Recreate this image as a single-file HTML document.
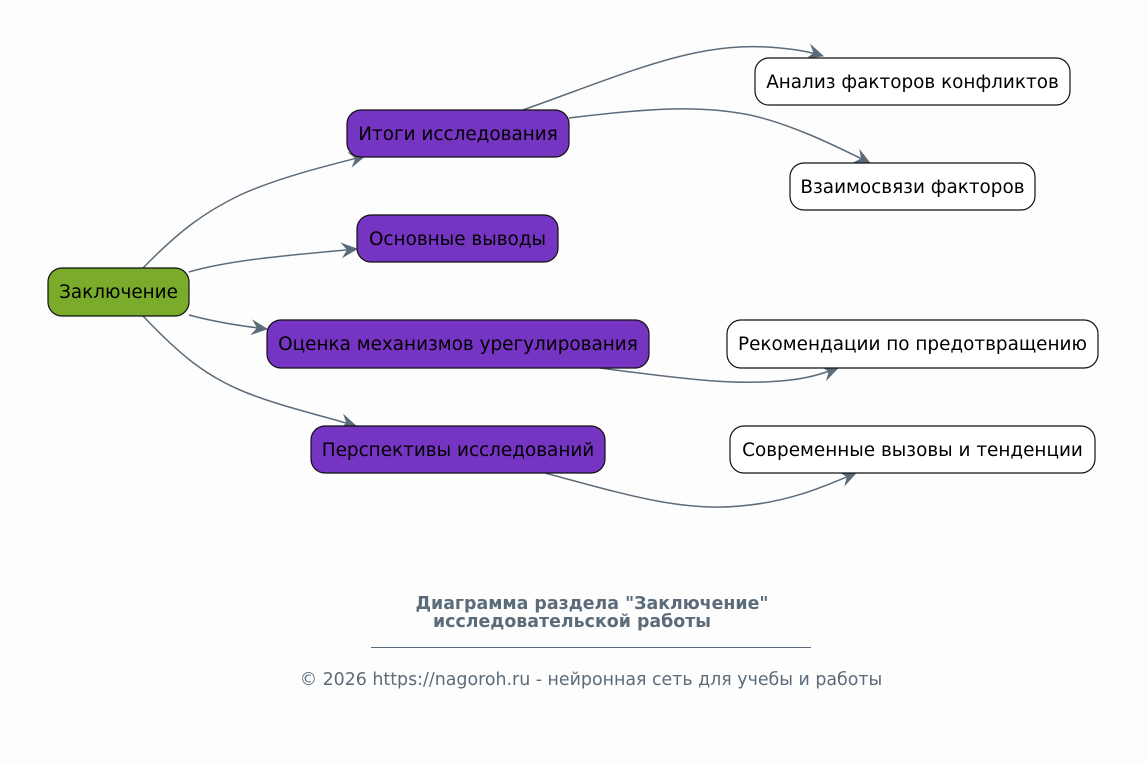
<!DOCTYPE html>
<html><head><meta charset="utf-8"><style>
html,body{margin:0;padding:0;background:#fdfdfd;}
svg{display:block;font-family:"DejaVu Sans","Liberation Sans",sans-serif;}
</style></head><body>
<svg width="1147" height="764" viewBox="0 0 1147 764" xmlns="http://www.w3.org/2000/svg">
<defs>
<marker id="a" markerUnits="userSpaceOnUse" markerWidth="18" markerHeight="16" refX="16" refY="8" orient="auto">
<path d="M0,0 L17,8 L0,16 L6,8 z" fill="#5c6b7a"/>
</marker>
</defs>
<rect width="1147" height="764" fill="#fdfdfd"/>
<g fill="none" stroke="#5c6b7a" stroke-width="1.5" marker-end="url(#a)">
<path d="M143,268 C180,230 205,212 240,195 C280,177 330,165 365,156"/>
<path d="M189,272 C230,260 290,255 357,249"/>
<path d="M189,315 C215,322 240,326 267,329"/>
<path d="M143,316 C180,355 205,375 240,390 C275,405 320,415 356,426"/>
<path d="M523,110 C640,68 700,40 780,48 C800,50 810,52 823,56"/>
<path d="M569,118 C650,108 700,105 750,115 C790,124 830,143 870,163"/>
<path d="M600,368 C690,380 740,386 790,380 C810,378 825,373 838,368"/>
<path d="M545,473 C620,493 680,512 740,506 C790,502 825,486 856,473"/>
</g>
<g stroke="#111" stroke-width="1.2">
<rect x="48" y="268" width="141" height="48" rx="14" fill="#7aab2b"/>
<rect x="347" y="110" width="222" height="47" rx="14" fill="#7634c2"/>
<rect x="357" y="215" width="201" height="47" rx="14" fill="#7634c2"/>
<rect x="267" y="320" width="382" height="48" rx="14" fill="#7634c2"/>
<rect x="311" y="426" width="294" height="47" rx="14" fill="#7634c2"/>
<rect x="755" y="58" width="315" height="47" rx="14" fill="#fff"/>
<rect x="790" y="163" width="245" height="47" rx="14" fill="#fff"/>
<rect x="727" y="320" width="371" height="48" rx="14" fill="#fff"/>
<rect x="730" y="426" width="365" height="47" rx="14" fill="#fff"/>
</g>
<g font-size="18.4" fill="#000" text-anchor="middle">
<text x="118.5" y="298">Заключение</text>
<text x="458" y="140">Итоги исследования</text>
<text x="457.5" y="245">Основные выводы</text>
<text x="458" y="350">Оценка механизмов урегулирования</text>
<text x="458" y="456">Перспективы исследований</text>
<text x="912.5" y="88">Анализ факторов конфликтов</text>
<text x="912.5" y="193">Взаимосвязи факторов</text>
<text x="912.5" y="350">Рекомендации по предотвращению</text>
<text x="912.5" y="456">Современные вызовы и тенденции</text>
</g>
<g fill="#5c6b7a">
<text x="592" y="609" font-size="17.4" font-weight="bold" text-anchor="middle">Диаграмма раздела "Заключение"</text>
<text x="572" y="627" font-size="17.4" font-weight="bold" text-anchor="middle">исследовательской работы</text>
<line x1="371" y1="647.5" x2="811" y2="647.5" stroke="#5c6b7a" stroke-width="1"/>
<text x="591" y="685" font-size="17.4" text-anchor="middle">© 2026 https://nagoroh.ru - нейронная сеть для учебы и работы</text>
</g>
</svg>
</body></html>
